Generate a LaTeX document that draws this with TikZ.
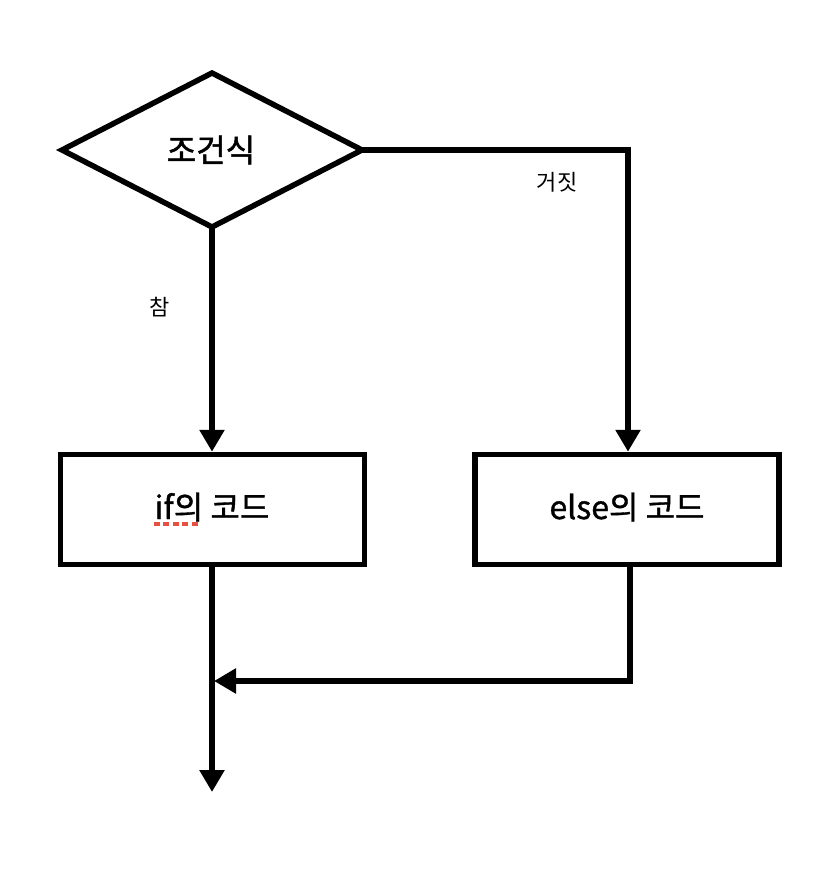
\documentclass[tikz,border=0pt]{standalone}
\usepackage{fontspec}
\setmainfont{Noto Sans CJK KR}
\newfontfamily\medfont[FakeBold=1.6]{Noto Sans CJK KR}
\newfontfamily\semifont[FakeBold=1.1]{Noto Sans CJK KR}
\usetikzlibrary{arrows.meta,shapes.geometric}
\definecolor{squiggle}{HTML}{E8503F}
\begin{document}
\begin{tikzpicture}[x=1pt,y=-1pt,
  line width=5.5pt,
  box/.style={draw,line width=5.5pt,minimum width=304pt,minimum height=110pt,inner sep=0pt},
  boxtext/.style={font=\semifont\fontsize{32}{34}\selectfont,anchor=base,inner sep=0pt},
  conn/.style={draw,line width=5.5pt,-{Triangle[length=22pt,width=24pt]}},
  lbl/.style={font=\fontsize{22}{24}\selectfont}]
\useasboundingbox (0,0) rectangle (830,890);
\fill[white] (0,0) rectangle (830,890);
\coordinate (dl) at (62,150);
\coordinate (dr) at (362,150);
\coordinate (dt) at (212,73);
\coordinate (db) at (212,227);
\draw[line join=miter] (dl) -- (dt) -- (dr) -- (db) -- cycle;
\node[font=\medfont\fontsize{32}{34}\selectfont] (cond) at (211,150) {조건식};
\node[box] (ifc) at (212.5,509.5) {};
\node[box] (elsec) at (627,509.5) {};
\node[boxtext] (ift) at (212,519) {if의 코드};
\node[boxtext] (elset) at (627,519) {else의 코드};
\draw[conn] (db) -- (ifc.north -| db);
\coordinate (rc) at (628,150);
\draw[conn] (dr) -- (rc) -- (elsec.north -| rc);
\coordinate (endc) at (212,792);
\draw[conn] (ifc.south -| endc) -- (endc);
\coordinate (jr) at (630,681);
\coordinate (jl) at (214,681);
\draw[conn] (elsec.south -| jr) -- (jr) -- (jl);
\node[lbl] (tr) at (160,307) {참};
\node[lbl] (fa) at (557,182) {거짓};
\draw[squiggle,line width=4pt,dash pattern=on 6pt off 3.5pt] (153.5,524) -- (200,524);
\end{tikzpicture}
\end{document}
